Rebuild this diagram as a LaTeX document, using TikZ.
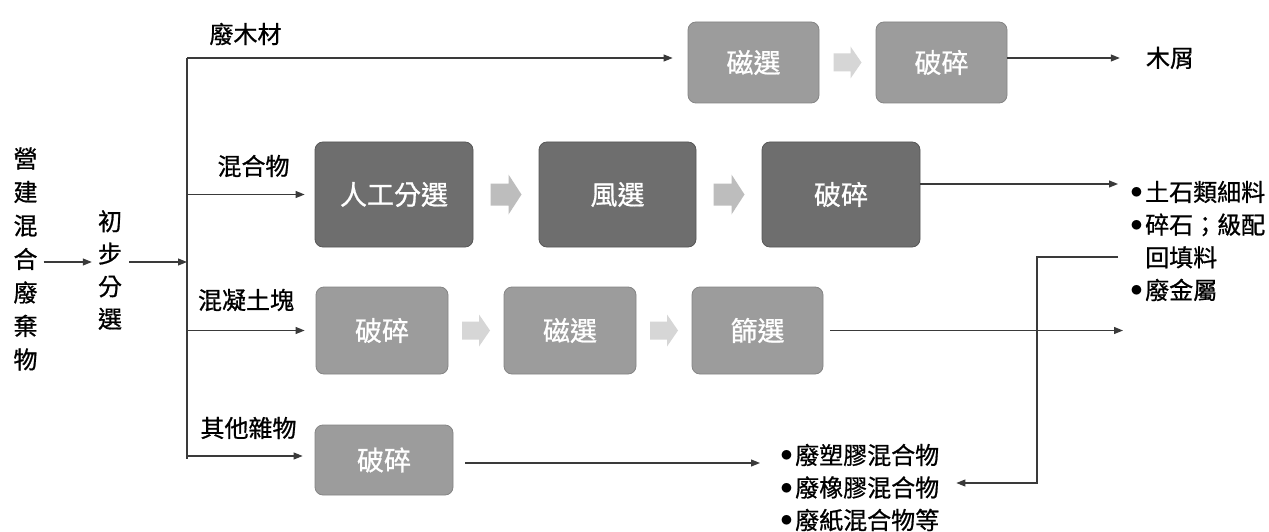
\documentclass[tikz,border=0pt]{standalone}
\usepackage{fontspec}
\setmainfont{Noto Sans CJK TC}[FakeBold=0.8]
\usetikzlibrary{arrows.meta,calc}
\definecolor{boxdark}{HTML}{6E6E6E}
\definecolor{boxdarkline}{HTML}{575757}
\definecolor{boxlite}{HTML}{9C9C9C}
\definecolor{boxliteline}{HTML}{858585}
\definecolor{arrmid}{HTML}{BDBDBD}
\definecolor{arrlite}{HTML}{D6D6D6}
\definecolor{linecol}{HTML}{3A3A3A}
\newcommand{\mybul}{\makebox[12pt][l]{\hspace*{3.5pt}\makebox[0pt][c]{\raisebox{2.5pt}{$\bullet$}}}}
\begin{document}
\begin{tikzpicture}[x=1pt,y=-1pt,
  lbl/.style={inner sep=0pt, font=\fontsize{24pt}{33pt}\selectfont, text=black},
  proc/.style={rounded corners=8pt, inner sep=0pt, text=white, font=\fontsize{27pt}{30pt}\selectfont},
  darkbox/.style={proc, fill=boxdark, draw=boxdarkline, line width=0.8pt},
  litebox/.style={proc, fill=boxlite, draw=boxliteline, line width=0.8pt},
  conn/.style={draw=linecol, line width=1.1pt},
  arr/.style={conn, -{Triangle[length=9pt,width=7pt]}},
  bigarrow/.pic={\fill[arrmid] (-15.5,-11) -- (2.5,-11) -- (2.5,-20) -- (15.5,0) -- (2.5,20) -- (2.5,11) -- (-15.5,11) -- cycle;},
  smallarrow/.pic={\fill[arrlite] (-14,-9) -- (3,-9) -- (3,-16) -- (14,0) -- (3,16) -- (3,9) -- (-14,9) -- cycle;}
]
\useasboundingbox (0,0) rectangle (1269,532);
\fill[white] (0,0) rectangle (1269,532);

% left column texts
\node[lbl, align=center, font=\fontsize{24pt}{33.5pt}\selectfont] (t0) at (25.5,259) {營\\建\\混\\合\\廢\\棄\\物};
\node[lbl, align=center, font=\fontsize{24pt}{32.5pt}\selectfont] (t1) at (110,270) {初\\步\\分\\選};

% branch labels
\node[lbl] (l1) at (245.5,34) {廢木材};
\node[lbl] (l2) at (253.5,166) {混合物};
\node[lbl] (l3) at (246,300) {混凝土塊};
\node[lbl] (l4) at (248.5,428) {其他雜物};

% process boxes
\node[litebox, minimum width=131pt, minimum height=81pt] (r1a) at (753.5,62.5) {磁選};
\node[litebox, minimum width=131pt, minimum height=81pt] (r1b) at (941.5,62.5) {破碎};
\node[darkbox, minimum width=158pt, minimum height=105pt] (r2a) at (394,194.5) {人工分選};
\node[darkbox, minimum width=157pt, minimum height=105pt] (r2b) at (617.5,194.5) {風選};
\node[darkbox, minimum width=158pt, minimum height=105pt] (r2c) at (841,194.5) {破碎};
\node[litebox, minimum width=132pt, minimum height=87pt] (r3a) at (382,330.5) {破碎};
\node[litebox, minimum width=132pt, minimum height=87pt] (r3b) at (570,330.5) {磁選};
\node[litebox, minimum width=131pt, minimum height=87pt] (r3c) at (757.5,330.5) {篩選};
\node[litebox, minimum width=138pt, minimum height=70pt] (r4a) at (384,460) {破碎};

% outputs
\node[lbl] (mx) at (1170,58) {木屑};
\node[lbl, align=left, anchor=west, font=\fontsize{24pt}{32.7pt}\selectfont] (outA) at (1133,241) {\mybul 土石類細料\\\mybul 碎石；級配\\\hspace*{12pt}回填料\\\mybul 廢金屬};
\node[lbl, align=left, anchor=west, font=\fontsize{24pt}{32.5pt}\selectfont] (outB) at (783,487.5) {\mybul 廢塑膠混合物\\\mybul 廢橡膠混合物\\\mybul 廢紙混合物等};

% block arrows between boxes
\pic at ($(r1a.east)!0.5!(r1b.west)$) {smallarrow};
\pic at ($(r2a.east)!0.5!(r2b.west)$) {bigarrow};
\pic at ($(r2b.east)!0.5!(r2c.west)$) {bigarrow};
\pic at ($(r3a.east)!0.5!(r3b.west)$) {smallarrow};
\pic at ($(r3b.east)!0.5!(r3c.west)$) {smallarrow};

% bus and branches
\coordinate (bustop) at (187,58);
\coordinate (busbot) at (187,459);
\coordinate (jn) at (187,262);
\coordinate (b4) at (187,456);
\draw[arr, shorten <=6pt, shorten >=6pt] (t0.east |- jn) -- (t1.west |- jn);
\draw[arr, shorten <=7pt] (t1.east |- jn) -- (jn);
\draw[conn] (bustop) -- (busbot);
\draw[arr, shorten >=15pt] (bustop) -- (bustop -| r1a.west);
\draw[arr, shorten >=10pt] (bustop |- r2a.west) -- (r2a.west);
\draw[arr, shorten >=11pt] (bustop |- r3a.west) -- (r3a.west);
\draw[arr, shorten >=12pt] (b4) -- (b4 -| r4a.west);

% outgoing connectors
\coordinate (o2) at (0,184);
\coordinate (o4) at (0,463);
\coordinate (fb1) at (1037,257);
\coordinate (fb2) at (1037,483);
\draw[arr, shorten >=26pt] (r1b.east |- bustop) -- (mx.west |- bustop);
\draw[arr, shorten >=15pt] (r2c.east |- o2) -- (outA.west |- o2);
\draw[arr, shorten <=7pt, shorten >=10pt] (r3c.east) -- (r3c.east -| outA.west);
\draw[arr, shorten <=12pt, shorten >=23pt] (r4a.east |- o4) -- (outB.west |- o4);
\draw[arr, shorten <=15pt, shorten >=17pt] (outA.west |- fb1) -- (fb1) -- (fb2) -- (outB.east |- fb2);
\end{tikzpicture}
\end{document}
